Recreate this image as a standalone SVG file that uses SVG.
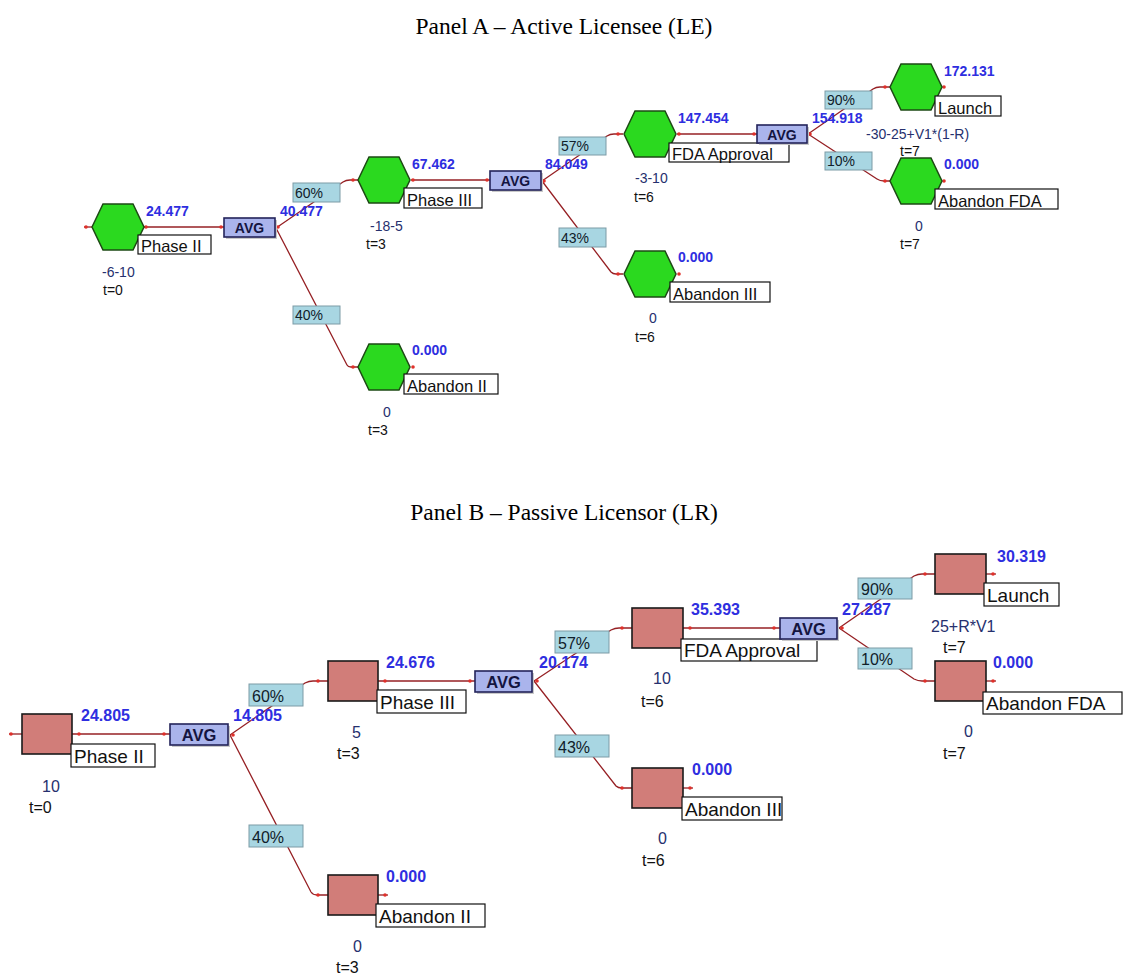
<svg xmlns="http://www.w3.org/2000/svg" xmlns:xlink="http://www.w3.org/1999/xlink" width="1128" height="979" viewBox="0 0 1128 979">
<style>
.title{font-family:"Liberation Serif","Times New Roman",serif;font-size:23.5px;fill:#000}
.hex{fill:#2bd91f;stroke:#1d4a14;stroke-width:1.5}
.box{fill:#d17d79;stroke:#1a1a1a;stroke-width:1.6}
.avg{fill:#aab4ec;stroke:#23235a;stroke-width:1.6}
.sh{fill:#c9c9c9}
.prob{fill:#a8d6e2;stroke:#7d9ba6;stroke-width:1}
.lbl{fill:#fff;stroke:#111;stroke-width:1.2}
.conn{fill:none;stroke:#962024;stroke-width:1.3}
.dot{fill:#e0302a}
text{font-family:"Liberation Sans",Arial,sans-serif}
.la{font-size:16.5px;fill:#111}
.lb{font-size:19px;fill:#111}
.va{font-size:14px;font-weight:bold;fill:#2e2ee0}
.vb{font-size:16px;font-weight:bold;fill:#2e2ee0}
.ga{font-size:14px;font-weight:bold;fill:#141440}
.gb{font-size:16.5px;font-weight:bold;fill:#141440}
.pa{font-size:14px;fill:#10202a}
.pb{font-size:16px;fill:#10202a}
.sa{font-size:14px;fill:#26306e}
.ta{font-size:14px;fill:#111}
.sb{font-size:16px;fill:#26306e}
.tb{font-size:16px;fill:#111}
</style>
<defs>
<polygon id="hx" points="-26,0 -15,-23 15,-23 26,0 15,23 -15,23"/>
</defs>
<rect width="1128" height="979" fill="#fff"/>

<text class="title" x="564" y="34" text-anchor="middle">Panel A – Active Licensee (LE)</text>
<text class="title" x="564" y="520" text-anchor="middle">Panel B – Passive Licensor (LR)</text>

<g id="connectors">
<!-- Panel A -->
<path class="conn" d="M84,227 H92"/>
<path class="conn" d="M144,227 H224"/>
<path class="conn" d="M276,228 L343,182 Q346,180 350,180 H358"/>
<path class="conn" d="M276,228 L347,365 Q348,367 351,367 H358"/>
<path class="conn" d="M411,180 H490"/>
<path class="conn" d="M542,181 L607,136 Q610,134 614,134 H623"/>
<path class="conn" d="M542,181 L611,272 Q613,274 616,274 H623"/>
<path class="conn" d="M677,134 H757"/>
<path class="conn" d="M808,134 L873,89 Q876,87 880,87 H890"/>
<path class="conn" d="M808,134 L877,179 Q880,181 884,181 H890"/>
<circle class="dot" cx="86" cy="227" r="1.8"/>
<circle class="dot" cx="146" cy="227" r="1.8"/>
<circle class="dot" cx="221" cy="227" r="1.8"/>
<circle class="dot" cx="278" cy="227" r="1.8"/>
<circle class="dot" cx="353" cy="180" r="1.8"/>
<circle class="dot" cx="353" cy="367" r="1.8"/>
<circle class="dot" cx="413" cy="180" r="1.8"/>
<circle class="dot" cx="487" cy="180" r="1.8"/>
<circle class="dot" cx="544" cy="181" r="1.8"/>
<circle class="dot" cx="618" cy="134" r="1.8"/>
<circle class="dot" cx="618" cy="274" r="1.8"/>
<circle class="dot" cx="679" cy="134" r="1.8"/>
<circle class="dot" cx="754" cy="134" r="1.8"/>
<circle class="dot" cx="810" cy="134" r="1.8"/>
<circle class="dot" cx="885" cy="87" r="1.8"/>
<circle class="dot" cx="885" cy="181" r="1.8"/>
<circle class="dot" cx="413" cy="367" r="1.8"/>
<circle class="dot" cx="679" cy="274" r="1.8"/>
<circle class="dot" cx="944" cy="87" r="1.8"/>
<circle class="dot" cx="944" cy="181" r="1.8"/>
<rect class="prob" x="293" y="183" width="47" height="19"/><text class="pa" x="295" y="198">60%</text>
<rect class="prob" x="293" y="306" width="47" height="18"/><text class="pa" x="295" y="320">40%</text>
<rect class="prob" x="559" y="137" width="47" height="18"/><text class="pa" x="561" y="151">57%</text>
<rect class="prob" x="559" y="228" width="47" height="19"/><text class="pa" x="561" y="243">43%</text>
<rect class="prob" x="825" y="91" width="47" height="18"/><text class="pa" x="827" y="105">90%</text>
<rect class="prob" x="825" y="152" width="47" height="18"/><text class="pa" x="827" y="166">10%</text>

<!-- Panel B -->
<path class="conn" d="M9,734 H22"/>
<path class="conn" d="M72,734 H170"/>
<path class="conn" d="M230,735 L305,683 Q309,681 313,681 H328"/>
<path class="conn" d="M230,735 L311,892 Q313,895 317,895 H328"/>
<path class="conn" d="M378,681 H475"/>
<path class="conn" d="M534,681 L611,630 Q615,628 619,628 H632"/>
<path class="conn" d="M534,681 L616,786 Q618,788 622,788 H632"/>
<path class="conn" d="M683,628 H780"/>
<path class="conn" d="M839,628 L914,576 Q918,574 922,574 H935"/>
<path class="conn" d="M839,628 L914,679 Q918,681 922,681 H935"/>
<path class="conn" d="M986,574 H996"/>
<path class="conn" d="M986,681 H996"/>
<path class="conn" d="M683,788 H693"/>
<path class="conn" d="M378,895 H388"/>
<circle class="dot" cx="11" cy="734" r="1.8"/>
<circle class="dot" cx="79" cy="734" r="1.8"/>
<circle class="dot" cx="164" cy="734" r="1.8"/>
<circle class="dot" cx="233" cy="735" r="1.8"/>
<circle class="dot" cx="318" cy="681" r="1.8"/>
<circle class="dot" cx="318" cy="895" r="1.8"/>
<circle class="dot" cx="385" cy="681" r="1.8"/>
<circle class="dot" cx="470" cy="681" r="1.8"/>
<circle class="dot" cx="537" cy="681" r="1.8"/>
<circle class="dot" cx="622" cy="628" r="1.8"/>
<circle class="dot" cx="622" cy="788" r="1.8"/>
<circle class="dot" cx="690" cy="628" r="1.8"/>
<circle class="dot" cx="774" cy="628" r="1.8"/>
<circle class="dot" cx="842" cy="628" r="1.8"/>
<circle class="dot" cx="925" cy="574" r="1.8"/>
<circle class="dot" cx="925" cy="681" r="1.8"/>
<circle class="dot" cx="993" cy="574" r="1.8"/>
<circle class="dot" cx="993" cy="681" r="1.8"/>
<circle class="dot" cx="690" cy="788" r="1.8"/>
<circle class="dot" cx="385" cy="895" r="1.8"/>
<rect class="prob" x="249" y="684" width="54" height="22"/><text class="pb" x="252" y="702">60%</text>
<rect class="prob" x="249" y="825" width="54" height="22"/><text class="pb" x="252" y="843">40%</text>
<rect class="prob" x="555" y="631" width="54" height="22"/><text class="pb" x="558" y="649">57%</text>
<rect class="prob" x="555" y="735" width="54" height="22"/><text class="pb" x="558" y="753">43%</text>
<rect class="prob" x="858" y="578" width="54" height="21"/><text class="pb" x="861" y="595">90%</text>
<rect class="prob" x="858" y="648" width="54" height="21"/><text class="pb" x="861" y="665">10%</text>
</g>

<!-- Panel A nodes -->
<g id="a-phase2">
<use xlink:href="#hx" href="#hx" x="118" y="227" class="hex"/>
<rect class="lbl" x="138" y="235" width="73" height="19"/>
<text class="la" x="141" y="252">Phase II</text>
<text class="va" x="146" y="216">24.477</text>
<text class="sa" x="102" y="277">-6-10</text>
<text class="ta" x="103" y="295">t=0</text>
</g>
<g id="a-avg1">
<rect class="sh" x="226" y="220" width="51" height="19"/>
<rect class="avg" x="224" y="218" width="51" height="19"/>
<text class="ga" x="249.5" y="233" text-anchor="middle">AVG</text>
<text class="va" x="280" y="216">40.477</text>
</g>
<g id="a-phase3">
<use xlink:href="#hx" href="#hx" x="384" y="180" class="hex"/>
<rect class="lbl" x="404" y="188" width="78" height="20"/>
<text class="la" x="407" y="206">Phase III</text>
<text class="va" x="412" y="169">67.462</text>
<text class="sa" x="370" y="231">-18-5</text>
<text class="ta" x="366" y="249">t=3</text>
</g>
<g id="a-abandon2">
<use xlink:href="#hx" href="#hx" x="384" y="367" class="hex"/>
<rect class="lbl" x="404" y="374" width="94" height="20"/>
<text class="la" x="407" y="392">Abandon II</text>
<text class="va" x="412" y="355">0.000</text>
<text class="sa" x="383" y="417">0</text>
<text class="ta" x="368" y="435">t=3</text>
</g>
<g id="a-avg2">
<rect class="sh" x="492" y="173" width="51" height="19"/>
<rect class="avg" x="490" y="171" width="51" height="19"/>
<text class="ga" x="515.5" y="186" text-anchor="middle">AVG</text>
<text class="va" x="545" y="169">84.049</text>
</g>
<g id="a-fda">
<use xlink:href="#hx" href="#hx" x="650" y="134" class="hex"/>
<rect class="lbl" x="669" y="143" width="120" height="19"/>
<text class="la" x="672" y="160">FDA Approval</text>
<text class="va" x="678" y="123">147.454</text>
<text class="sa" x="635" y="183">-3-10</text>
<text class="ta" x="634" y="202">t=6</text>
</g>
<g id="a-abandon3">
<use xlink:href="#hx" href="#hx" x="650" y="274" class="hex"/>
<rect class="lbl" x="670" y="282" width="100" height="20"/>
<text class="la" x="673" y="300">Abandon III</text>
<text class="va" x="678" y="262">0.000</text>
<text class="sa" x="649" y="323">0</text>
<text class="ta" x="635" y="342">t=6</text>
</g>
<g id="a-avg3">
<rect class="sh" x="759" y="127" width="50" height="18"/>
<rect class="avg" x="757" y="125" width="50" height="18"/>
<text class="ga" x="782" y="139.5" text-anchor="middle">AVG</text>
<text class="va" x="812" y="123">154.918</text>
</g>
<g id="a-launch">
<use xlink:href="#hx" href="#hx" x="916" y="87" class="hex"/>
<rect class="lbl" x="935" y="96" width="66" height="20"/>
<text class="la" x="938" y="114">Launch</text>
<text class="va" x="944" y="76">172.131</text>
<text class="sa" x="866" y="139">-30-25+V1*(1-R)</text>
<text class="ta" x="900" y="156">t=7</text>
</g>
<g id="a-abandonfda">
<use xlink:href="#hx" href="#hx" x="916" y="181" class="hex"/>
<rect class="lbl" x="935" y="189" width="123" height="20"/>
<text class="la" x="938" y="207">Abandon FDA</text>
<text class="va" x="944" y="169">0.000</text>
<text class="sa" x="915" y="231">0</text>
<text class="ta" x="900" y="249">t=7</text>
</g>

<!-- Panel B nodes -->
<g id="b-phase2">
<rect class="box" x="22" y="714" width="50" height="40"/>
<rect class="lbl" x="71" y="744" width="84" height="23"/>
<text class="lb" x="74" y="763">Phase II</text>
<text class="vb" x="81" y="721">24.805</text>
<text class="sb" x="42" y="792">10</text>
<text class="tb" x="29" y="813">t=0</text>
</g>
<g id="b-avg1">
<rect class="sh" x="172" y="726" width="58" height="21"/>
<rect class="avg" x="170" y="724" width="58" height="21"/>
<text class="gb" x="199" y="740.5" text-anchor="middle">AVG</text>
<text class="vb" x="233" y="721">14.805</text>
</g>
<g id="b-phase3">
<rect class="box" x="328" y="661" width="50" height="40"/>
<rect class="lbl" x="377" y="690" width="89" height="23"/>
<text class="lb" x="380" y="709">Phase III</text>
<text class="vb" x="386" y="668">24.676</text>
<text class="sb" x="352" y="738">5</text>
<text class="tb" x="337" y="759">t=3</text>
</g>
<g id="b-abandon2">
<rect class="box" x="328" y="875" width="50" height="40"/>
<rect class="lbl" x="376" y="904" width="109" height="23"/>
<text class="lb" x="379" y="923">Abandon II</text>
<text class="vb" x="386" y="882">0.000</text>
<text class="sb" x="353" y="952">0</text>
<text class="tb" x="336" y="973">t=3</text>
</g>
<g id="b-avg2">
<rect class="sh" x="477" y="673" width="57" height="21"/>
<rect class="avg" x="475" y="671" width="57" height="21"/>
<text class="gb" x="503.5" y="687.5" text-anchor="middle">AVG</text>
<text class="vb" x="539" y="668">20.174</text>
</g>
<g id="b-fda">
<rect class="box" x="632" y="608" width="51" height="40"/>
<rect class="lbl" x="681" y="639" width="136" height="22"/>
<text class="lb" x="684" y="657">FDA Approval</text>
<text class="vb" x="691" y="615">35.393</text>
<text class="sb" x="653" y="684">10</text>
<text class="tb" x="641" y="707">t=6</text>
</g>
<g id="b-abandon3">
<rect class="box" x="632" y="768" width="51" height="40"/>
<rect class="lbl" x="682" y="797" width="100" height="23"/>
<text class="lb" x="685" y="816">Abandon III</text>
<text class="vb" x="692" y="775">0.000</text>
<text class="sb" x="658" y="844">0</text>
<text class="tb" x="642" y="866">t=6</text>
</g>
<g id="b-avg3">
<rect class="sh" x="782" y="620" width="57" height="21"/>
<rect class="avg" x="780" y="618" width="57" height="21"/>
<text class="gb" x="808.5" y="634.5" text-anchor="middle">AVG</text>
<text class="vb" x="842" y="615">27.287</text>
</g>
<g id="b-launch">
<rect class="box" x="935" y="554" width="51" height="40"/>
<rect class="lbl" x="984" y="583" width="75" height="23"/>
<text class="lb" x="987" y="602">Launch</text>
<text class="vb" x="997" y="562">30.319</text>
<text class="sb" x="931" y="632">25+R*V1</text>
<text class="tb" x="943" y="653">t=7</text>
</g>
<g id="b-abandonfda">
<rect class="box" x="935" y="661" width="51" height="40"/>
<rect class="lbl" x="983" y="692" width="139" height="22"/>
<text class="lb" x="986" y="710">Abandon FDA</text>
<text class="vb" x="993" y="668">0.000</text>
<text class="sb" x="964" y="737">0</text>
<text class="tb" x="943" y="759">t=7</text>
</g>
</svg>
